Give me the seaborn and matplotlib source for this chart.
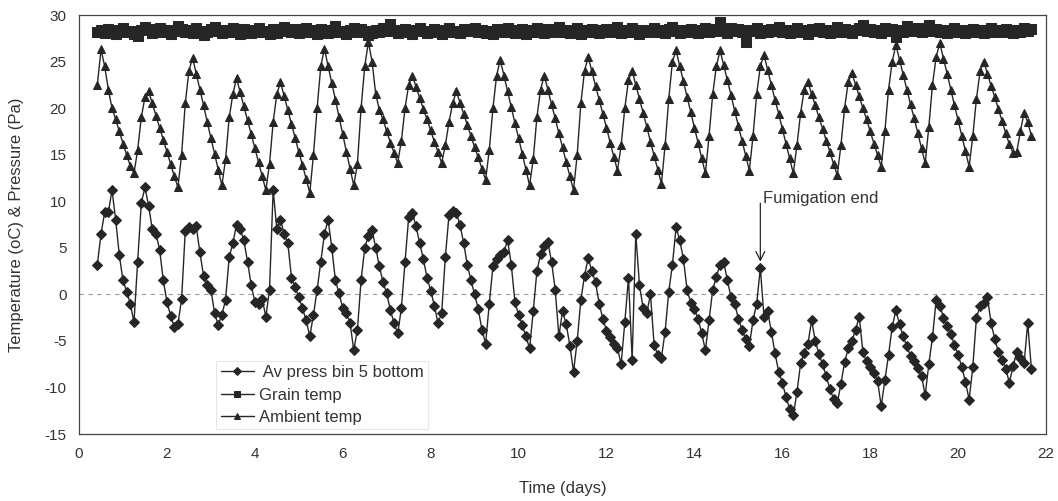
import numpy as np
import pandas as pd
import matplotlib
matplotlib.use("Agg")
import matplotlib.pyplot as plt
import seaborn as sns

# ---- data (2-hourly readings, first reading at hour 10 of day 0) ----
hours = np.arange(10, 522, 2)  # logger time stamps in hours
time_days = hours / 24.0

press = [
    3.2, 6.5, 8.8, 8.8, 11.2, 8.0, 4.2,
    1.5, 0.3, -1.0, -3.0, 3.5, 9.8, 11.5, 9.5, 7.0, 6.5, 4.8, 1.5,
    -0.8, -2.3, -3.5, -3.2, -0.5, 6.8, 7.2, 7.0, 7.3, 4.5, 2.0, 1.0,
    0.5, -2.0, -3.3, -2.2, -0.6, 4.0, 5.5, 7.5, 7.0, 5.8, 3.5, 1.0,
    -0.8, -1.0, -0.5, -2.4, 0.5, 11.2, 7.0, 8.0, 6.5, 5.5, 1.8, 0.8,
    -0.3, -1.5, -2.8, -4.5, -2.2, 0.5, 3.5, 6.5, 8.0, 5.0, 1.5, 0.1,
    -1.5, -2.0, -3.1, -6.0, -3.8, 1.5, 5.0, 6.3, 6.9, 5.0, 3.0, 1.3,
    0.1, -1.7, -3.1, -4.2, -1.5, 3.5, 8.3, 8.7, 7.3, 5.5, 3.8, 1.8,
    0.4, -1.2, -3.1, -2.0, 4.0, 8.5, 8.9, 8.7, 7.5, 5.5, 3.2, 1.5,
    0.0, -1.6, -3.8, -5.3, -1.0, 3.0, 3.8, 4.2, 4.6, 5.8, 3.2, -0.8,
    -2.2, -3.3, -4.5, -5.8, -1.8, 2.5, 4.3, 5.2, 5.6, 3.5, 0.5, -4.5,
    -1.8, -3.2, -5.5, -8.3, -5.0, -0.6, 2.0, 3.9, 2.5, 1.3, -1.0, -2.6,
    -3.9, -4.6, -5.3, -5.8, -7.5, -3.0, 1.8, -7.0, 6.5, 1.0, -1.5, -2.0,
    0.0, -5.4, -6.5, -6.8, -4.0, 0.3, 3.2, 7.2, 5.8, 3.8, 0.5, -0.9,
    -1.6, -2.6, -4.2, -6.0, -2.8, 0.5, 1.9, 3.2, 3.5, 1.5, -0.3, -1.0,
    -2.6, -3.8, -4.8, -5.5, -2.8, -1.0, 2.8, -2.4, -1.8, -4.0, -6.3, -8.3,
    -9.5, -11.0, -12.3, -13.0, -10.5, -7.4, -6.3, -5.3, -2.8, -5.0, -6.4, -7.5,
    -8.8, -10.2, -11.2, -11.7, -9.6, -7.3, -5.8, -5.0, -3.8, -2.4, -6.2, -7.2,
    -7.8, -8.5, -9.3, -12.0, -9.2, -6.5, -3.5, -1.7, -3.2, -4.5, -5.6, -6.6,
    -7.2, -7.9, -8.8, -10.8, -7.5, -4.6, -0.6, -1.2, -2.5, -3.4, -4.3, -5.4,
    -6.5, -7.8, -9.4, -11.3, -7.8, -2.5, -1.3, -0.9, -0.3, -3.1, -4.8, -6.2,
    -7.0, -8.0, -9.5, -7.7, -6.2, -6.8, -7.4, -3.1, -8.0,
]

grain = [
    28.2, 28.4, 28.1, 28.5, 28.3, 28.0, 28.4,
    28.6, 28.2, 28.3, 28.0, 27.8, 28.4, 28.7, 28.5, 28.1, 28.3, 28.6, 28.2,
    28.4, 28.0, 28.3, 28.8, 28.5, 28.2, 28.4, 28.1, 28.6, 28.3, 27.9, 28.2,
    28.5, 28.7, 28.3, 28.1, 28.4, 28.2, 28.6, 28.3, 28.0, 28.5, 28.3, 28.1,
    28.4, 28.6, 28.2, 28.3, 28.0, 28.5, 28.1, 28.4, 28.7, 28.3, 28.2, 28.5,
    28.1, 28.3, 28.6, 28.2, 28.4, 28.0, 28.5, 28.3, 28.1, 28.4, 28.8, 28.2,
    28.3, 28.0, 28.4, 28.6, 28.2, 28.5, 28.3, 27.9, 28.1, 28.4, 28.2, 28.6,
    28.3, 29.0, 28.4, 28.1, 28.3, 28.5, 28.2, 28.0, 28.4, 28.6, 28.3, 28.1,
    28.2, 28.5, 28.3, 28.0, 28.4, 28.6, 28.2, 28.3, 28.1, 28.5, 28.3, 28.4,
    28.6, 28.2, 28.4, 28.1, 28.3, 28.0, 28.5, 28.3, 28.2, 28.6, 28.4, 28.1,
    28.3, 28.5, 28.0, 28.4, 28.2, 28.6, 28.3, 28.1, 28.5, 28.2, 28.4, 28.7,
    28.2, 28.4, 28.1, 28.3, 28.6, 28.0, 28.4, 28.2, 28.5, 28.3, 28.1, 28.4,
    28.5, 28.2, 28.3, 28.7, 28.1, 28.4, 28.2, 28.6, 28.3, 28.0, 28.4, 28.2,
    28.3, 28.6, 28.2, 28.4, 28.1, 28.5, 28.7, 28.3, 28.1, 28.4, 28.2, 28.5,
    28.3, 28.1, 28.4, 28.6, 28.2, 28.5, 28.3, 29.2, 28.4, 28.1, 28.6, 28.3,
    28.5, 28.2, 27.1, 28.4, 28.3, 28.6, 28.1, 28.4, 28.2, 28.5, 28.3, 28.7,
    28.2, 28.4, 28.1, 28.3, 28.6, 28.2, 28.4, 28.0, 28.5, 28.3, 28.6, 28.2,
    28.4, 28.1, 28.3, 28.7, 28.2, 28.5, 28.3, 28.1, 28.4, 28.6, 28.9, 28.3,
    28.5, 28.2, 28.4, 28.1, 28.6, 28.3, 28.5, 27.6, 28.4, 28.2, 28.8, 28.5,
    28.3, 28.6, 28.2, 28.4, 28.9, 28.3, 28.5, 28.2, 28.4, 28.1, 28.3, 28.6,
    28.2, 28.4, 28.1, 28.3, 28.5, 28.2, 28.4, 28.1, 28.3, 28.6, 28.2, 28.4,
    28.2, 28.5, 28.3, 28.1, 28.4, 28.2, 28.6, 28.3, 28.5,
]

ambient = [
    22.5, 26.3, 24.5, 22.0, 20.0, 18.8, 17.5,
    16.2, 15.0, 13.8, 13.0, 15.5, 19.0, 21.2, 21.8, 20.5, 19.2, 17.9, 16.6,
    15.3, 14.0, 12.7, 11.5, 15.0, 20.5, 24.0, 25.4, 23.7, 22.0, 20.3, 18.5,
    16.8, 15.1, 13.4, 11.7, 14.5, 19.0, 21.5, 23.2, 21.7, 20.2, 18.7, 17.2,
    15.7, 14.2, 12.7, 11.2, 14.0, 18.5, 21.5, 22.8, 21.3, 19.8, 18.3, 16.8,
    15.3, 13.9, 12.4, 10.9, 15.0, 20.0, 24.5, 26.4, 24.5, 22.7, 20.9, 19.0,
    17.2, 15.3, 13.5, 11.7, 14.0, 20.0, 24.5, 27.1, 25.0, 21.5, 19.8, 18.8,
    17.5, 16.3, 15.2, 14.1, 16.5, 20.0, 22.5, 23.5, 22.3, 21.1, 19.9, 18.8,
    17.6, 16.4, 15.3, 14.1, 16.0, 18.5, 20.5, 21.8, 20.6, 19.4, 18.2, 17.0,
    15.8, 14.7, 13.5, 12.3, 15.5, 20.0, 23.5, 25.2, 23.5, 21.8, 20.1, 18.4,
    16.8, 15.1, 13.4, 11.7, 14.5, 19.0, 22.0, 23.5, 22.0, 20.4, 18.9, 17.3,
    15.8, 14.2, 12.7, 11.2, 15.0, 20.5, 24.0, 25.5, 24.0, 22.4, 20.9, 19.4,
    17.9, 16.3, 14.8, 13.3, 16.0, 20.0, 23.0, 24.0, 22.5, 21.0, 19.5, 18.0,
    16.4, 14.9, 13.4, 11.9, 16.0, 21.0, 25.0, 26.2, 24.5, 22.9, 21.2, 19.6,
    17.9, 16.3, 14.6, 13.0, 17.0, 21.5, 24.5, 26.2, 24.6, 23.0, 21.4, 19.7,
    18.1, 16.5, 14.9, 13.3, 17.0, 21.5, 24.5, 25.7, 24.1, 22.5, 20.9, 19.4,
    17.8, 16.2, 14.6, 13.0, 16.0, 19.5, 22.0, 22.8, 21.5, 20.3, 19.0, 17.8,
    16.5, 15.3, 14.0, 12.8, 16.0, 20.0, 22.8, 23.8, 22.5, 21.3, 20.0, 18.8,
    17.5, 16.2, 15.0, 13.7, 17.5, 22.0, 25.0, 26.8, 25.2, 23.6, 22.0, 20.4,
    18.9, 17.3, 15.7, 14.1, 18.0, 22.5, 25.5, 27.0, 25.3, 23.7, 22.0, 20.3,
    18.7, 17.0, 15.4, 13.7, 17.0, 21.0, 24.0, 25.0, 23.7, 22.4, 21.2, 19.9,
    18.6, 17.3, 16.1, 15.2, 15.3, 17.5, 19.5, 18.5, 17.0,
]

series_labels = [" Av press bin 5 bottom", "Grain temp", "Ambient temp"]
x_ticks = list(range(0, 23, 2))
y_ticks = list(range(-15, 31, 5))
fumigation_end_day = 15.5
fumigation_end_value = 2.8

# ---- style ----
sns.set_style("white")
plt.rcParams["font.family"] = ["Liberation Sans", "DejaVu Sans"]
plt.rcParams["axes.unicode_minus"] = False
ink = "#262626"
text_c = "#333333"

fig = plt.figure(figsize=(10.58, 5.01), dpi=100)
ax = fig.add_axes([0.0747, 0.1337, 0.9140, 0.8363])

ax.axhline(0, color="#9a9a9a", lw=0.8, ls=(0, (4, 4)), zorder=0)

df = pd.DataFrame({"t": time_days, "p": press, "g": grain, "a": ambient})

sns.lineplot(data=df, x="t", y="p", ax=ax, color=ink, lw=1.0, marker="D",
             markersize=5.4, markeredgecolor=ink, markerfacecolor=ink,
             estimator=None, label=series_labels[0])
sns.lineplot(data=df, x="t", y="g", ax=ax, color=ink, lw=1.0, marker="s",
             markersize=7.2, markeredgecolor=ink, markerfacecolor=ink,
             estimator=None, label=series_labels[1])
sns.lineplot(data=df, x="t", y="a", ax=ax, color=ink, lw=1.0, marker="^",
             markersize=6.3, markeredgecolor=ink, markerfacecolor=ink,
             estimator=None, label=series_labels[2])

ax.set_xlim(0, 22)
ax.set_ylim(-15, 30)
ax.set_xticks(x_ticks)
ax.set_yticks(y_ticks)
ax.tick_params(axis="both", length=0, labelsize=11, colors=text_c, pad=9)

for s in ax.spines.values():
    s.set_color("#444444")
    s.set_linewidth(0.9)
    s.set_visible(True)

ax.set_xlabel("Time (days)", fontsize=12, color=text_c)
ax.set_ylabel("Temperature (oC) & Pressure (Pa)", fontsize=12, color=text_c)
ax.xaxis.set_label_coords(0.5, -0.113)
ax.yaxis.set_label_coords(-0.057, 0.5)

# annotation
ax.annotate("", xy=(fumigation_end_day, fumigation_end_value + 0.7),
            xytext=(fumigation_end_day, fumigation_end_value + 7.0),
            arrowprops=dict(arrowstyle="->", color=ink, lw=0.9, mutation_scale=16,
                            shrinkA=0, shrinkB=0))
ax.text(fumigation_end_day + 0.07, fumigation_end_value + 7.5, "Fumigation end",
        fontsize=12, color=text_c, ha="left", va="center")

leg = ax.legend(loc="upper left", bbox_to_anchor=(0.142, 0.174), borderaxespad=0,
                frameon=True, fancybox=False, fontsize=12, handlelength=2.0,
                handletextpad=0.3, labelspacing=0.45, borderpad=0.25)
leg.get_frame().set_edgecolor("#e2e2e2")
leg.get_frame().set_linewidth(0.8)
for t in leg.get_texts():
    t.set_color(text_c)
for h in leg.legend_handles:
    h.set_markersize(4.5)

fig.savefig("out.png", dpi=100)
